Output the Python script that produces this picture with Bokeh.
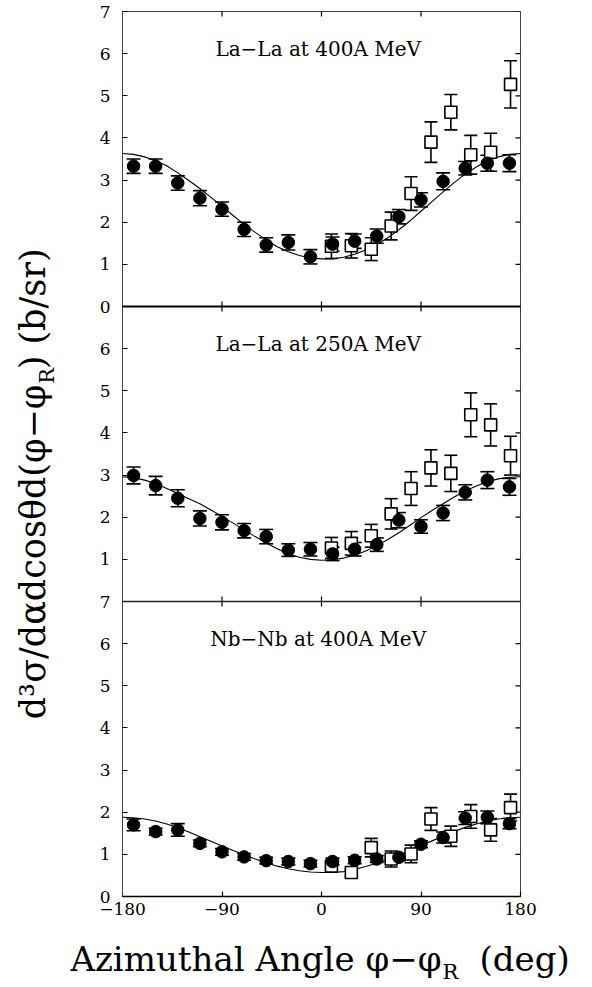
import numpy as np
from bokeh.plotting import figure
from bokeh.layouts import column, row
from bokeh.models import (Range1d, FixedTicker, Span, Whisker, ColumnDataSource, TeeHead)
from bokeh.core.properties import value
from bokeh.embed import file_html
from bokeh.resources import INLINE

# Azimuthal bins (deg)
phi_circ = [-170, -150, -130, -110, -90, -70, -50, -30, -10,
            10, 30, 50, 70, 90, 110, 130, 150, 170]
phi_sq = [9, 27, 45, 63, 81, 99, 117, 135, 153, 171]
phi_fit = [-180, -170, -160, -150, -140, -130, -120, -110, -100, -90,
           -80, -70, -60, -50, -40, -30, -20, -10, 0, 10, 20, 30, 40, 50,
           60, 70, 80, 90, 100, 110, 120, 130, 140, 150, 160, 170, 180]

# La-La at 400A MeV
la400_circ = [3.33, 3.33, 2.93, 2.57, 2.31, 1.83, 1.46, 1.52, 1.18,
              1.48, 1.55, 1.67, 2.13, 2.53, 2.97, 3.28, 3.40, 3.40]
la400_circ_err = [0.17, 0.17, 0.17, 0.18, 0.17, 0.17, 0.17, 0.18, 0.17,
                  0.17, 0.17, 0.17, 0.17, 0.17, 0.20, 0.16, 0.19, 0.20]
la400_sq = [1.43, 1.44, 1.36, 1.91, 2.68, 3.90, 4.61, 3.60, 3.66, 5.27]
la400_sq_err = [0.29, 0.29, 0.27, 0.33, 0.40, 0.48, 0.42, 0.46, 0.45, 0.56]
la400_fit = [3.63, 3.61, 3.55, 3.46, 3.34, 3.17, 2.99, 2.80, 2.59, 2.38,
             2.16, 1.95, 1.76, 1.58, 1.42, 1.30, 1.21, 1.15, 1.13, 1.13,
             1.17, 1.24, 1.34, 1.47, 1.63, 1.82, 2.03, 2.26, 2.49, 2.72,
             2.94, 3.14, 3.31, 3.46, 3.55, 3.61, 3.63]

# La-La at 250A MeV
la250_circ = [2.99, 2.75, 2.45, 1.97, 1.88, 1.68, 1.54, 1.22, 1.24,
              1.13, 1.24, 1.35, 1.93, 1.78, 2.10, 2.59, 2.88, 2.72]
la250_circ_err = [0.20, 0.22, 0.20, 0.18, 0.18, 0.17, 0.17, 0.15, 0.16,
                  0.16, 0.16, 0.16, 0.18, 0.16, 0.18, 0.18, 0.20, 0.20]
la250_sq = [1.27, 1.38, 1.56, 2.08, 2.68, 3.17, 3.04, 4.43, 4.19, 3.46]
la250_sq_err = [0.25, 0.28, 0.27, 0.36, 0.40, 0.43, 0.43, 0.52, 0.50, 0.46]
la250_fit = [2.96, 2.94, 2.88, 2.80, 2.68, 2.56, 2.44, 2.32, 2.17, 2.02,
             1.86, 1.70, 1.54, 1.39, 1.25, 1.13, 1.05, 1.00, 0.98, 0.99,
             1.03, 1.10, 1.20, 1.32, 1.47, 1.63, 1.81, 1.99, 2.16, 2.32,
             2.48, 2.62, 2.74, 2.84, 2.91, 2.95, 2.96]

# Nb-Nb at 400A MeV
nb400_circ = [1.70, 1.54, 1.58, 1.26, 1.06, 0.94, 0.85, 0.83, 0.78,
              0.83, 0.86, 0.89, 0.93, 1.24, 1.40, 1.86, 1.88, 1.73]
nb400_circ_err = [0.14, 0.08, 0.15, 0.08, 0.08, 0.08, 0.08, 0.08, 0.08,
                  0.08, 0.08, 0.08, 0.08, 0.08, 0.13, 0.15, 0.15, 0.12]
nb400_sq = [0.72, 0.57, 1.16, 0.89, 1.01, 1.84, 1.43, 1.90, 1.58, 2.11]
nb400_sq_err = [0.10, 0.08, 0.22, 0.19, 0.21, 0.27, 0.24, 0.28, 0.27, 0.32]
nb400_fit = [1.88, 1.87, 1.84, 1.79, 1.72, 1.63, 1.53, 1.42, 1.31, 1.20,
             1.09, 0.99, 0.89, 0.80, 0.72, 0.66, 0.61, 0.58, 0.57, 0.57,
             0.59, 0.64, 0.71, 0.79, 0.88, 0.98, 1.09, 1.21, 1.32, 1.43,
             1.54, 1.64, 1.72, 1.79, 1.84, 1.87, 1.88]

panel_titles = ["La\u2212La at 400A MeV", "La\u2212La at 250A MeV", "Nb\u2212Nb at 400A MeV"]
x_ticks = [-180, -90, 0, 90, 180]
panel_span = 7  # each panel covers 0..7 b/sr

# panels stacked top to bottom, each shifted up by its offset
panels = [
    (panel_titles[0], 14, la400_circ, la400_circ_err, la400_sq, la400_sq_err, la400_fit),
    (panel_titles[1], 7, la250_circ, la250_circ_err, la250_sq, la250_sq_err, la250_fit),
    (panel_titles[2], 0, nb400_circ, nb400_circ_err, nb400_sq, nb400_sq_err, nb400_fit),
]

# page layout: [y title | main plot] above [x title]
W, H = 592, 987
YT_W = 60          # width of the strip holding the vertical title
XT_H = 62          # height of the strip holding the horizontal title
MAIN_W, MAIN_H = W - YT_W, H - XT_H

p = figure(width=MAIN_W, height=MAIN_H, output_backend="svg", toolbar_location=None,
           title=None, x_range=Range1d(-180, 180), y_range=Range1d(0, 3 * panel_span),
           min_border_left=62, min_border_right=72, min_border_top=11,
           min_border_bottom=29)
p.xgrid.visible = False
p.ygrid.visible = False
p.outline_line_color = "#444444"
p.outline_line_width = 1

# y tick labels: each panel restarts at 0; shared edges show the outer panel's value
y_pos = list(range(0, 3 * panel_span + 1))
y_labels = {}
for v in y_pos:
    if v <= 7:
        y_labels[v] = str(v)
    elif v < 14:
        y_labels[v] = str(v - 7)
    else:
        y_labels[v] = str(v - 14)
y_labels[21] = "7"

def style_axis(ax):
    ax.major_tick_in = 5
    ax.major_tick_out = 0
    ax.minor_tick_line_color = None
    ax.major_tick_line_color = "black"
    ax.major_tick_line_width = 1.2
    ax.axis_line_color = "#444444"
    ax.major_label_text_font = "DejaVu Serif"
    ax.major_label_text_font_size = "17px"
    ax.major_label_text_color = "black"

left = p.yaxis[0]
left.ticker = FixedTicker(ticks=y_pos)
left.major_label_overrides = y_labels
left.major_label_standoff = 12
style_axis(left)

bottom = p.xaxis[0]
bottom.ticker = FixedTicker(ticks=x_ticks)
bottom.major_label_overrides = {-180: "\u2212180", -90: "\u221290"}
bottom.major_label_standoff = 6
style_axis(bottom)
bottom.axis_line_color = "black"
bottom.axis_line_width = 1.5

# boundaries between stacked panels
p.add_layout(Span(location=14, dimension="width", line_color="black", line_width=2.2))
p.add_layout(Span(location=7, dimension="width", line_color="#222222", line_width=1.5))

# inward ticks on the top and right edges and on both sides of shared edges;
# markers are centred on the edge so the frame keeps only the inner half there
tick_kw = dict(marker="dash", size=10, line_color="black", line_width=1.2)
p.scatter(x=x_ticks[1:-1], y=[3 * panel_span] * 3, angle=np.pi / 2, **tick_kw)
for off in (7, 14):
    p.scatter(x=x_ticks[1:-1], y=[off] * 3, angle=np.pi / 2, **tick_kw)
p.scatter(x=[180] * len(y_pos), y=y_pos, **tick_kw)

for title, off, circ, circ_err, sq, sq_err, fit in panels:
    circ = np.array(circ)
    circ_err = np.array(circ_err)
    sq = np.array(sq)
    sq_err = np.array(sq_err)

    p.line(x=phi_fit, y=np.array(fit) + off, line_color="black", line_width=1.1)

    sq_src = ColumnDataSource(dict(x=phi_sq, y=sq + off,
                                   lo=sq - sq_err + off, hi=sq + sq_err + off))
    circ_src = ColumnDataSource(dict(x=phi_circ, y=circ + off,
                                     lo=circ - circ_err + off, hi=circ + circ_err + off))

    for src, cap in ((sq_src, 13), (circ_src, 14)):
        w = Whisker(source=src, base="x", lower="lo", upper="hi", dimension="height",
                    line_color="black", line_width=1.6, level="underlay",
                    lower_head=TeeHead(size=cap, line_color="black", line_width=1.6),
                    upper_head=TeeHead(size=cap, line_color="black", line_width=1.6))
        p.add_layout(w)

    p.scatter(x="x", y="y", source=sq_src, marker="square", size=12,
              fill_color="white", line_color="black", line_width=1.6)
    p.scatter(x="x", y="y", source=circ_src, marker="circle", size=12.5,
              fill_color="black", line_color="black")

    p.text(x=[-3], y=[6.1 + off], text=[title], text_font=value("DejaVu Serif"),
           text_font_size="20px", text_align="center", text_baseline="middle",
           text_color="black")


def text_strip(w, h):
    """A bare figure whose data units are pixels, used to hold axis titles."""
    f = figure(width=w, height=h, output_backend="svg", toolbar_location=None,
               title=None, x_range=Range1d(0, w), y_range=Range1d(0, h),
               x_axis_location=None, y_axis_location=None,
               min_border=0, min_border_left=0, min_border_right=0,
               min_border_top=0, min_border_bottom=0)
    f.xgrid.visible = False
    f.ygrid.visible = False
    f.outline_line_color = None
    return f


title_font = value("DejaVu Serif")
SUB_W = 15  # advance of the subscript R
txt_kw = dict(text_font=title_font, text_baseline="middle", text_color="black")

# horizontal title: Azimuthal Angle phi - phi_R (deg); y is the text's middle line
XFS = 34
xt = text_strip(W, XT_H)
x_end, mid, sub_mid = 441, 29, 16
xt.text(x=[x_end], y=[mid], text=["Azimuthal Angle \u03c6\u2212\u03c6"],
        text_font_size=f"{XFS}px", text_align="right", **txt_kw)
xt.text(x=[x_end + 1], y=[sub_mid], text=["R"], text_font_size="21px",
        text_align="left", **txt_kw)
xt.text(x=[x_end + 1 + SUB_W + 22], y=[mid], text=["(deg)"],
        text_font_size=f"{XFS}px", text_align="left", **txt_kw)

# vertical title: d3sigma / d alpha d cos theta d(phi - phi_R)  (b/sr)
YFS = 35
yt = text_strip(YT_W, MAIN_H)
mx, y_end = 32, MAIN_H - 390
yt.text(x=[mx], y=[y_end], text=["d\u00b3\u03c3/d\u03b1dcos\u03b8d(\u03c6\u2212\u03c6"],
        angle=np.pi / 2, text_font_size=f"{YFS}px", text_align="right", **txt_kw)
yt.text(x=[mx + 14], y=[y_end + 1], text=["R"], angle=np.pi / 2,
        text_font_size="21px", text_align="left", **txt_kw)
yt.text(x=[mx], y=[y_end + 1 + SUB_W], text=[")  (b/sr)"], angle=np.pi / 2,
        text_font_size=f"{YFS}px", text_align="left", **txt_kw)

layout = column(row(yt, p, spacing=0), xt, spacing=0)
open("out.html", "w").write(file_html(layout, INLINE))
